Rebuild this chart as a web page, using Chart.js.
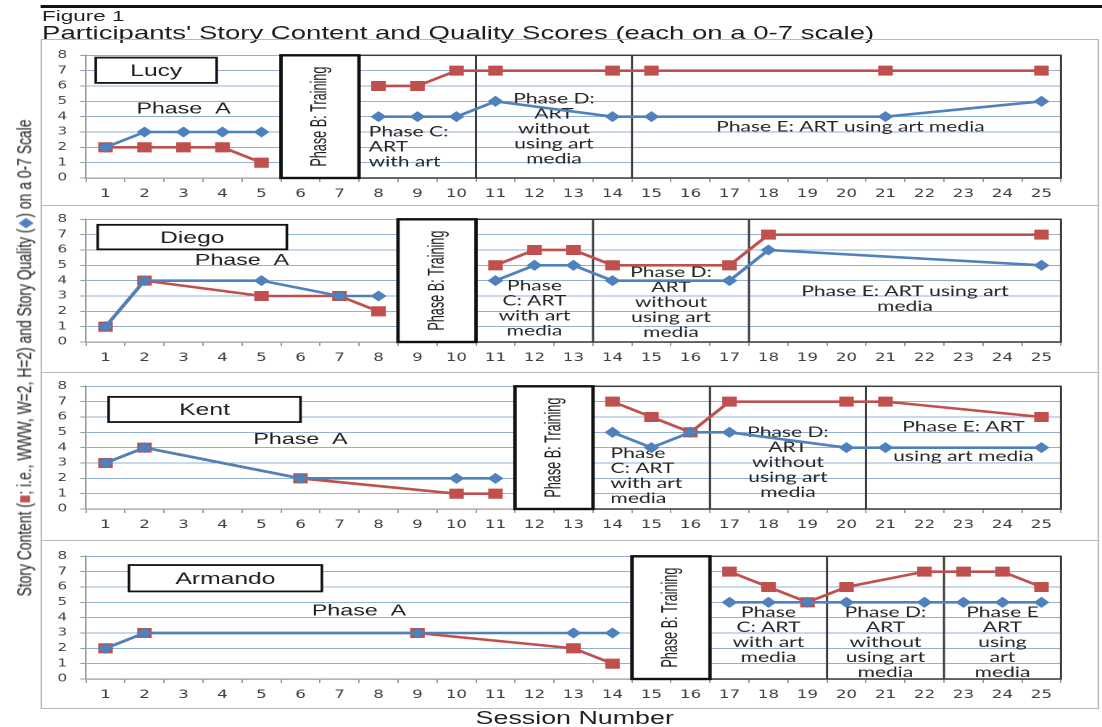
<!DOCTYPE html>
<html>
<head>
<meta charset="utf-8">
<script src="https://cdn.jsdelivr.net/npm/chart.js@4/dist/chart.umd.min.js"></script>
<style>
  html, body { margin: 0; padding: 0; background: #fff; overflow: hidden; }
  body { width: 1102px; height: 727px; }
  /* everything is laid out on a 760px-wide sheet, then widened to the window */
  #sheet { position: absolute; left: 0; top: 0; width: 760px; height: 727px;
           transform: scaleX(1.45); transform-origin: 0 0;
           font-family: "Liberation Sans", Arial, sans-serif; color: #1e1e1e; }
  .rule { position: absolute; left: 27.6px; top: 4.5px; width: 733px; height: 3px; background: #111; }
  .fig { position: absolute; left: 29px; top: 8px; font-size: 15.5px; line-height: 15px; white-space: nowrap; }
  .ttl { position: absolute; left: 29px; top: 23px; font-size: 19px; line-height: 19px; white-space: nowrap; }
  .panel { position: absolute; left: 27.6px; width: 730.5px; border: 1.3px solid #b9b9b9; box-sizing: border-box; }
  canvas { position: absolute; left: 0; }
  #ylabel { position: absolute; font-size: 14px; line-height: 16px; white-space: nowrap; color: #222; }
  #ylabel .c { color: #c0504d; }
  #ylabel .q { color: #4f81bd; }
  #xlabel { position: absolute; top: 708px; font-size: 18.5px; line-height: 20px; white-space: nowrap; color: #222; }
</style>
</head>
<body>
<div id="sheet">
  <div class="rule"></div>
  <div class="fig">Figure 1</div>
  <div class="ttl">Participants' Story Content and Quality Scores (each on a 0-7 scale)</div>

  <div class="panel" style="top:39px;height:167px"></div>
  <div class="panel" style="top:205px;height:168px"></div>
  <div class="panel" style="top:372px;height:169px"></div>
  <div class="panel" style="top:540px;height:169px"></div>

  <canvas id="lucy" width="760" height="168" style="top:40px"></canvas>
  <canvas id="diego" width="760" height="168" style="top:204px"></canvas>
  <canvas id="kent" width="760" height="168" style="top:371px"></canvas>
  <canvas id="armando" width="760" height="168" style="top:541px"></canvas>

  <div id="ylabel">Story Content (<span class="c">■</span>; i.e., WWW, W=2, H=2) and Story Quality (<span class="q">◆</span>) on a 0-7 Scale</div>
  <div id="xlabel">Session Number</div>
</div>

<script>
// ---- session axis ----
const sessionLabels = ['1','2','3','4','5','6','7','8','9','10','11','12','13',
                       '14','15','16','17','18','19','20','21','22','23','24','25'];

// ---- scores per session (null = no story collected that session) ----
// Story Quality (blue diamonds)
const lucyQuality    = [2,3,3,3,3,null,null,4,4,4,5,null,null,4,4,null,null,null,null,null,4,null,null,null,5];
const diegoQuality   = [1,4,null,null,4,null,3,3,null,null,4,5,5,4,null,null,4,6,null,null,null,null,null,null,5];
const kentQuality    = [3,4,null,null,null,2,null,null,null,2,2,null,null,5,4,5,5,null,null,4,4,null,null,null,4];
const armandoQuality = [2,3,null,null,null,null,null,null,3,null,null,null,3,3,null,null,5,5,5,5,null,5,5,5,5];
// Story Content (red squares)
const lucyContent    = [2,2,2,2,1,null,null,6,6,7,7,null,null,7,7,null,null,null,null,null,7,null,null,null,7];
const diegoContent   = [1,4,null,null,3,null,3,2,null,null,5,6,6,5,null,null,5,7,null,null,null,null,null,null,7];
const kentContent    = [3,4,null,null,null,2,null,null,null,1,1,null,null,7,6,5,7,null,null,7,7,null,null,null,6];
const armandoContent = [2,3,null,null,null,null,null,null,3,null,null,null,2,1,null,null,7,6,5,6,null,7,7,7,6];

// ---- training sessions (Phase B) per participant ----
const lucyTraining    = [6, 7];
const diegoTraining   = [9, 10];
const kentTraining    = [12, 13];
const armandoTraining = [15, 16];

const BLUE = '#4f81bd';
const RED  = '#c0504d';
const NOTE_FONT = '14.5px Lato, "Open Sans", sans-serif';
const LINE_H = 15;

// Phase boxes, name tags and phase captions, placed in session / score units
function phasePlugin(cfg) {
  return {
    id: 'phases',
    beforeDatasetsDraw(chart) {
      const { ctx, chartArea: a, scales: { x, y } } = chart;
      const px = c => x.getPixelForValue(c - 1);
      const py = v => y.getPixelForValue(v);
      const t0 = cfg.training[0] - 0.5, t1 = cfg.training[1] + 0.5;
      ctx.save();

      // frame around phases C-E with dividers
      ctx.strokeStyle = '#3c3c3c';
      ctx.lineWidth = 1.5;
      ctx.strokeRect(px(t1), a.top, a.right - px(t1), a.bottom - a.top);
      cfg.dividers.forEach(d => {
        ctx.beginPath(); ctx.moveTo(px(d), a.top); ctx.lineTo(px(d), a.bottom); ctx.stroke();
      });

      // Phase B: training box
      ctx.fillStyle = '#fff';
      ctx.fillRect(px(t0), a.top, px(t1) - px(t0), a.bottom - a.top);
      ctx.strokeStyle = '#111';
      ctx.lineWidth = 2.4;
      ctx.strokeRect(px(t0), a.top, px(t1) - px(t0), a.bottom - a.top);
      ctx.save();
      ctx.translate((px(t0) + px(t1)) / 2, (a.top + a.bottom) / 2);
      ctx.rotate(-Math.PI / 2);
      ctx.font = '16px "Liberation Sans", Arial, sans-serif';
      const label = 'Phase B: Training';
      const w = ctx.measureText(label).width;
      ctx.scale(100 / w, 1);
      ctx.fillStyle = '#1e1e1e';
      ctx.textAlign = 'center';
      ctx.textBaseline = 'middle';
      ctx.fillText(label, 0, 0);
      ctx.restore();

      // participant name tag
      const [n0, n1, v0, v1] = cfg.nameBox;
      ctx.fillStyle = '#fff';
      ctx.fillRect(px(n0), py(v1), px(n1) - px(n0), py(v0) - py(v1));
      ctx.strokeStyle = '#111';
      ctx.lineWidth = 1.8;
      ctx.strokeRect(px(n0), py(v1), px(n1) - px(n0), py(v0) - py(v1));
      ctx.fillStyle = '#1e1e1e';
      ctx.font = '17px "Liberation Sans", Arial, sans-serif';
      ctx.textAlign = 'center';
      ctx.textBaseline = 'middle';
      ctx.fillText(cfg.name, (px(n0) + px(n1)) / 2, (py(v0) + py(v1)) / 2 + 1);

      // Phase A caption
      ctx.font = '16px "Liberation Sans", Arial, sans-serif';
      ctx.fillText('Phase  A', px(cfg.phaseA.c), py(cfg.phaseA.v));

      // Phase C / D / E captions
      ctx.font = NOTE_FONT;
      ctx.fillStyle = '#262626';
      cfg.notes.forEach(n => {
        ctx.textAlign = n.align || 'center';
        n.lines.forEach((t, i) => ctx.fillText(t, px(n.c), py(n.v) + i * LINE_H));
      });
      ctx.restore();
    }
  };
}

function makePanel(id, quality, content, cfg) {
  // no connecting line through the training sessions
  const inTraining = idx => idx + 1 >= cfg.training[0] && idx + 1 <= cfg.training[1];
  const skipTraining = c =>
    (inTraining(c.p0DataIndex) || inTraining(c.p1DataIndex)) ? 'rgba(0,0,0,0)' : undefined;
  new Chart(document.getElementById(id), {
    type: 'line',
    data: {
      labels: sessionLabels,
      datasets: [
        { label: 'Story Quality', data: quality, borderColor: BLUE, backgroundColor: BLUE,
          pointBackgroundColor: BLUE, pointBorderColor: BLUE, pointStyle: 'rectRot',
          pointRadius: 4.8, pointBorderWidth: 1, borderWidth: 2.6, spanGaps: true,
          segment: { borderColor: skipTraining } },
        { label: 'Story Content', data: content, borderColor: RED, backgroundColor: RED,
          pointBackgroundColor: RED, pointBorderColor: RED, pointStyle: 'rect',
          pointRadius: 6.4, pointBorderWidth: 1, borderWidth: 2.6, spanGaps: true,
          segment: { borderColor: skipTraining } }
      ]
    },
    options: {
      responsive: false,
      animation: false,
      devicePixelRatio: 2,
      events: [],
      layout: { padding: { left: 0, right: 28.3, top: 13, bottom: 0 } },
      plugins: { legend: { display: false }, tooltip: { enabled: false } },
      scales: {
        x: {
          offset: true,
          grid: { offset: true, drawOnChartArea: false, drawTicks: true, tickLength: 4, tickColor: '#9a9a9a' },
          border: { color: '#9a9a9a', width: 1.2 },
          ticks: { font: { family: 'DejaVu Sans', size: 11.5 }, color: '#404040', padding: 5,
                   maxRotation: 0, autoSkip: false },
          afterFit: s => { s.height = 30; }
        },
        y: {
          min: 0, max: 8,
          ticks: { stepSize: 1, autoSkip: false, font: { family: 'DejaVu Sans', size: 10.5 },
                   color: '#404040', padding: 9 },
          grid: { color: '#93b1d7', lineWidth: 1, tickLength: 4, tickColor: '#9a9a9a' },
          border: { color: '#9a9a9a', width: 1.2 },
          afterFit: s => { s.width = 59.3; }
        }
      }
    },
    plugins: [phasePlugin(cfg)]
  });
}

makePanel('lucy', lucyQuality, lucyContent, {
  name: 'Lucy', nameBox: [0.75, 3.85, 6.2, 7.85], training: lucyTraining,
  dividers: [10.5, 14.5], phaseA: { c: 3.0, v: 4.5 },
  notes: [
    { c: 7.75, v: 3.0, align: 'left', lines: ['Phase C:', 'ART', 'with art'] },
    { c: 12.5, v: 5.16, lines: ['Phase D:', 'ART', 'without', 'using art', 'media'] },
    { c: 20.1, v: 3.34, lines: ['Phase E: ART using art media'] }
  ]
});

makePanel('diego', diegoQuality, diegoContent, {
  name: 'Diego', nameBox: [0.8, 5.65, 6.04, 7.64], training: diegoTraining,
  dividers: [13.5, 17.5], phaseA: { c: 4.5, v: 5.32 },
  notes: [
    { c: 12, v: 3.66, lines: ['Phase', 'C: ART', 'with art', 'media'] },
    { c: 15.5, v: 4.53, lines: ['Phase D:', 'ART', 'without', 'using art', 'media'] },
    { c: 21.5, v: 3.31, lines: ['Phase E: ART using art', 'media'] }
  ]
});

makePanel('kent', kentQuality, kentContent, {
  name: 'Kent', nameBox: [1.08, 6.0, 5.67, 7.31], training: kentTraining,
  dividers: [16.5, 20.5], phaseA: { c: 6.0, v: 4.54 },
  notes: [
    { c: 13.95, v: 3.63, align: 'left', lines: ['Phase', 'C: ART', 'with art', 'media'] },
    { c: 18.5, v: 5.0, lines: ['Phase D:', 'ART', 'without', 'using art', 'media'] },
    { c: 23, v: 5.35, lines: ['Phase E: ART'] },
    { c: 23, v: 3.42, lines: ['using art media'] }
  ]
});

makePanel('armando', armandoQuality, armandoContent, {
  name: 'Armando', nameBox: [1.6, 6.55, 5.71, 7.43], training: armandoTraining,
  dividers: [19.5, 22.5], phaseA: { c: 7.5, v: 4.44 },
  notes: [
    { c: 18, v: 4.34, lines: ['Phase', 'C: ART', 'with art', 'media'] },
    { c: 21, v: 4.34, lines: ['Phase D:', 'ART', 'without', 'using art', 'media'] },
    { c: 24, v: 4.34, lines: ['Phase E', 'ART', 'using', 'art', 'media'] }
  ]
});

// vertical axis title, fitted to the height of the four panels
(function () {
  const el = document.getElementById('ylabel');
  const w = el.offsetWidth, h = el.offsetHeight;
  const cx = 16.6, cy = 358, len = 477;
  el.style.left = (cx - w / 2) + 'px';
  el.style.top = (cy - h / 2) + 'px';
  el.style.transform = 'rotate(-90deg) scaleX(' + (len / w) + ')';
  const xl = document.getElementById('xlabel');
  xl.style.left = (396.5 - xl.offsetWidth / 2) + 'px';
})();
</script>
</body>
</html>
